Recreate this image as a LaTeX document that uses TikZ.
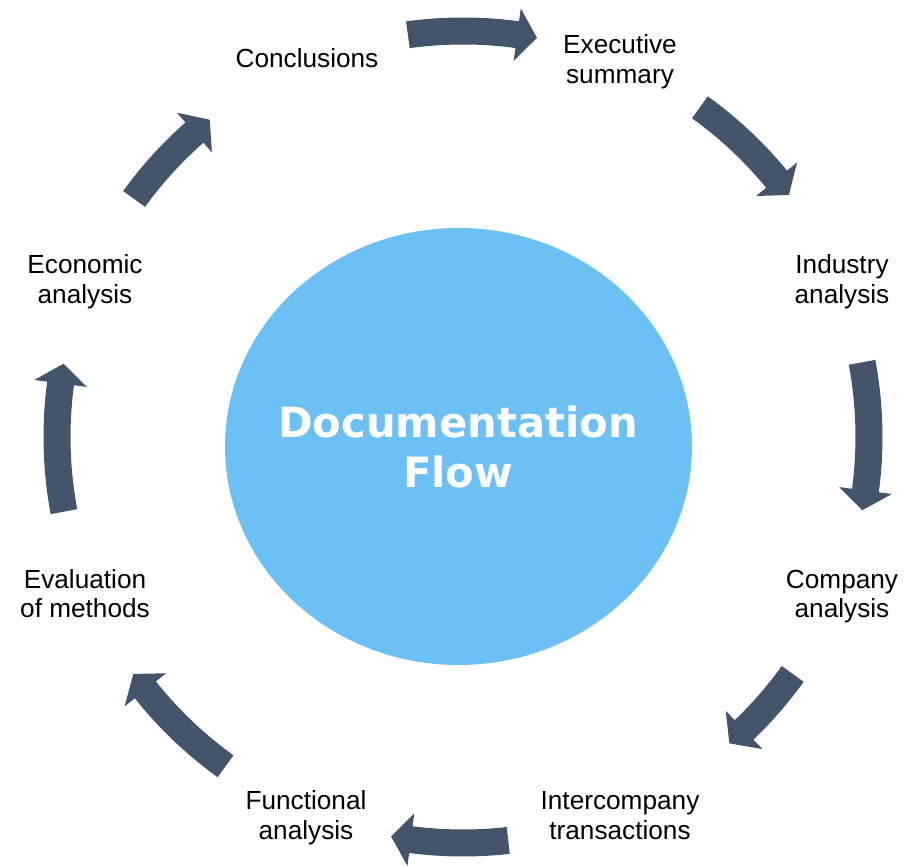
\documentclass[tikz,border=0pt]{standalone}
\usepackage{fontspec}
\setmainfont{Liberation Sans}
\newfontfamily\titlefont{DejaVu Sans}
\definecolor{arrowc}{RGB}{68,84,106}
\definecolor{circc}{RGB}{108,192,243}
\usetikzlibrary{shapes.geometric}
\tikzset{
  lbl/.style={font=\fontsize{26.2}{29.5}\selectfont, align=center, inner sep=0pt, text=black},
  hubshape/.style={ellipse, fill=circc, draw=none, inner sep=0pt, minimum width=467pt, minimum height=437pt},
  titletext/.style={font=\titlefont\bfseries\fontsize{41.7}{50}\selectfont, text=white, align=center, inner sep=0pt},
  cyclefill/.style={fill=arrowc}
}
\newcommand{\cycarrow}[2]{%
  \pgfmathsetmacro{\cycab}{#2+2.82}%
  \fill[cyclefill] ([shift={(c)}]#1:419.5pt) arc[start angle=#1, end angle=\cycab, radius=419.5pt]
    -- ([shift={(c)}]\cycab:432.5pt) -- ([shift={(c)}]#2:406pt) -- ([shift={(c)}]\cycab:379.5pt)
    -- ([shift={(c)}]\cycab:392.5pt) arc[start angle=\cycab, end angle=#1, radius=392.5pt] -- cycle;}
\begin{document}
\begin{tikzpicture}[x=1pt,y=1pt]
\useasboundingbox (0,0) rectangle (905,865);
\coordinate (c) at (463,428);
\node[hubshape] (hub) at (458.5,418.5) {};
\node[titletext] (title) at (458,412) {Documentation\strut\\Flow\strut};

\node[lbl] (concl) at (307,802.9) {Conclusions\strut};
\node[lbl] (exec) at (620,802.4) {Executive\strut\\summary\strut};
\node[lbl] (indus) at (842,582.4) {Industry\strut\\analysis\strut};
\node[lbl] (comp) at (842,268) {Company\strut\\analysis\strut};
\node[lbl] (inter) at (620,46.4) {Intercompany\strut\\transactions\strut};
\node[lbl] (func) at (306,46.4) {Functional\strut\\analysis\strut};
\node[lbl] (eval) at (85,268) {Evaluation\strut\\of methods\strut};
\node[lbl] (econ) at (85,582.4) {Economic\strut\\analysis\strut};

\cycarrow{97.8}{79.5}
\cycarrow{54.3}{36.6}
\cycarrow{10.6}{-10.4}
\cycarrow{-35.7}{-49}
\cycarrow{-83.6}{-100.2}
\cycarrow{-125.8}{-144.3}
\cycarrow{-169.4}{-190.4}
\cycarrow{144.1}{128.6}
\end{tikzpicture}
\end{document}
